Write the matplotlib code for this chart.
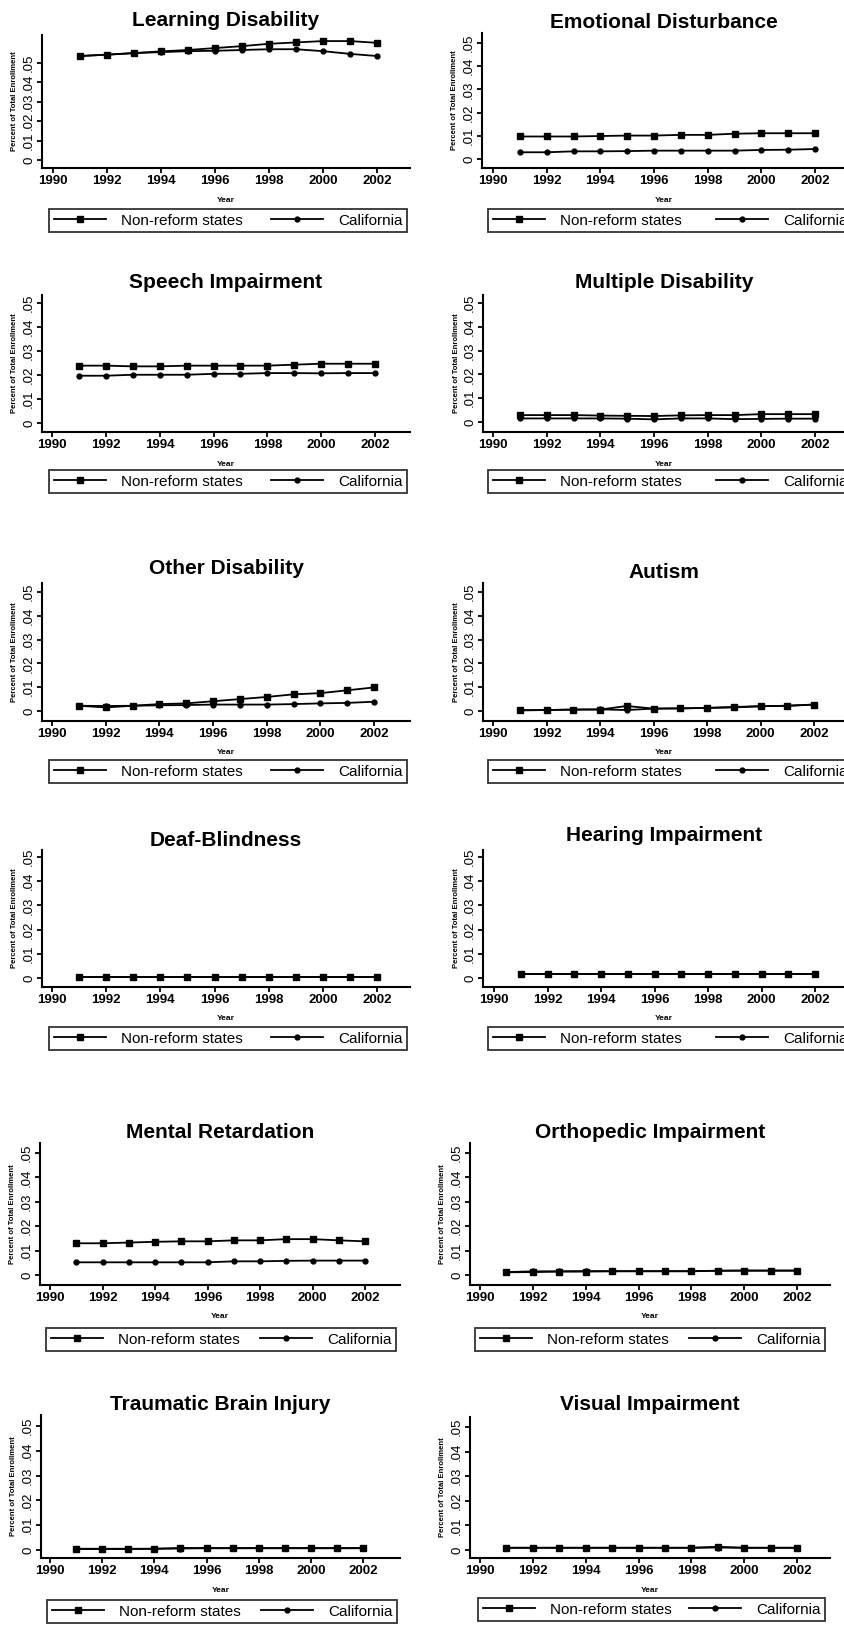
import matplotlib
matplotlib.use("Agg")
import matplotlib.pyplot as plt

plt.rcParams['font.family'] = ['Liberation Sans', 'DejaVu Sans']

years = [1991, 1992, 1993, 1994, 1995, 1996, 1997, 1998, 1999, 2000, 2001, 2002]
xticks = [1990, 1992, 1994, 1996, 1998, 2000, 2002]
yticks = [0, 0.01, 0.02, 0.03, 0.04, 0.05]
ytick_labels = ["0", ".01", ".02", ".03", ".04", ".05"]
series_labels = ["Non-reform states", "California"]

titles = ["Learning Disability", "Emotional Disturbance",
          "Speech Impairment", "Multiple Disability",
          "Other Disability", "Autism",
          "Deaf-Blindness", "Hearing Impairment",
          "Mental Retardation", "Orthopedic Impairment",
          "Traumatic Brain Injury", "Visual Impairment"]

ld_nonreform = [0.0536, 0.0543, 0.0551, 0.0560, 0.0567, 0.0577, 0.0587, 0.0599, 0.0606, 0.0613, 0.0613, 0.0604]
ld_california = [0.0536, 0.0543, 0.0551, 0.0556, 0.0561, 0.0563, 0.0567, 0.0571, 0.0571, 0.0561, 0.0547, 0.0536]
ed_nonreform = [0.0097, 0.0097, 0.0097, 0.0099, 0.0101, 0.0101, 0.0104, 0.0104, 0.0109, 0.0111, 0.0111, 0.0111]
ed_california = [0.0029, 0.0029, 0.0033, 0.0033, 0.0034, 0.0036, 0.0036, 0.0036, 0.0036, 0.0039, 0.0040, 0.0043]
sp_nonreform = [0.0239, 0.0239, 0.0236, 0.0236, 0.0239, 0.0239, 0.0239, 0.0239, 0.0243, 0.0247, 0.0247, 0.0247]
sp_california = [0.0197, 0.0197, 0.0201, 0.0201, 0.0201, 0.0205, 0.0205, 0.0208, 0.0208, 0.0207, 0.0208, 0.0208]
md_nonreform = [0.0029, 0.0029, 0.0029, 0.0027, 0.0026, 0.0025, 0.0028, 0.0029, 0.0029, 0.0033, 0.0033, 0.0033]
md_california = [0.0015, 0.0015, 0.0015, 0.0015, 0.0014, 0.0011, 0.0015, 0.0015, 0.0012, 0.0013, 0.0014, 0.0014]
od_nonreform = [0.0022, 0.0015, 0.0022, 0.0029, 0.0032, 0.0041, 0.0050, 0.0059, 0.0070, 0.0075, 0.0087, 0.0099]
od_california = [0.0022, 0.0021, 0.0022, 0.0024, 0.0025, 0.0027, 0.0027, 0.0027, 0.0029, 0.0032, 0.0034, 0.0039]
au_nonreform = [0.0003, 0.0004, 0.0006, 0.0006, 0.0021, 0.0010, 0.0011, 0.0013, 0.0015, 0.0020, 0.0022, 0.0027]
au_california = [0.0003, 0.0004, 0.0006, 0.0007, 0.0004, 0.0010, 0.0011, 0.0013, 0.0017, 0.0020, 0.0022, 0.0027]
db_nonreform = [0.0003, 0.0003, 0.0003, 0.0003, 0.0003, 0.0003, 0.0003, 0.0003, 0.0003, 0.0003, 0.0003, 0.0003]
db_california = [0.0003, 0.0003, 0.0003, 0.0003, 0.0003, 0.0003, 0.0003, 0.0003, 0.0003, 0.0003, 0.0003, 0.0003]
hi_nonreform = [0.0018, 0.0018, 0.0018, 0.0018, 0.0018, 0.0018, 0.0018, 0.0018, 0.0018, 0.0018, 0.0018, 0.0018]
hi_california = [0.0017, 0.0017, 0.0017, 0.0017, 0.0017, 0.0017, 0.0017, 0.0017, 0.0017, 0.0017, 0.0017, 0.0017]
mr_nonreform = [0.0130, 0.0130, 0.0133, 0.0136, 0.0138, 0.0138, 0.0142, 0.0142, 0.0147, 0.0147, 0.0142, 0.0138]
mr_california = [0.0052, 0.0052, 0.0052, 0.0052, 0.0052, 0.0052, 0.0056, 0.0056, 0.0058, 0.0059, 0.0059, 0.0059]
oi_nonreform = [0.0011, 0.0012, 0.0014, 0.0014, 0.0015, 0.0015, 0.0015, 0.0015, 0.0018, 0.0018, 0.0018, 0.0018]
oi_california = [0.0012, 0.0015, 0.0015, 0.0016, 0.0016, 0.0016, 0.0016, 0.0016, 0.0017, 0.0018, 0.0018, 0.0018]
tbi_nonreform = [0.0005, 0.0005, 0.0005, 0.0005, 0.0008, 0.0008, 0.0008, 0.0008, 0.0008, 0.0008, 0.0008, 0.0008]
tbi_california = [0.0004, 0.0004, 0.0004, 0.0005, 0.0006, 0.0007, 0.0007, 0.0007, 0.0007, 0.0007, 0.0007, 0.0007]
vi_nonreform = [0.0009, 0.0009, 0.0009, 0.0009, 0.0009, 0.0009, 0.0009, 0.0009, 0.0013, 0.0009, 0.0009, 0.0009]
vi_california = [0.0009, 0.0009, 0.0009, 0.0009, 0.0009, 0.0009, 0.0009, 0.0009, 0.0010, 0.0009, 0.0009, 0.0009]

nonreform = [ld_nonreform, ed_nonreform, sp_nonreform, md_nonreform, od_nonreform, au_nonreform,
             db_nonreform, hi_nonreform, mr_nonreform, oi_nonreform, tbi_nonreform, vi_nonreform]
california = [ld_california, ed_california, sp_california, md_california, od_california, au_california,
              db_california, hi_california, mr_california, oi_california, tbi_california, vi_california]

# layout in pixels: spine_x, x1990, x2002, right_x, top_y, bottom_y, y_zero, y_05, title_y, legend box
layout = [
    (42, 53, 377, 410, 35, 168, 160, 63, 20, (49, 209, 407, 233)),
    (482, 493, 815, 845, 33, 168, 159, 43, 23, (488, 209, 852, 236)),
    (42, 52, 375, 410, 295, 432, 423, 303, 282, (49, 470, 407, 502)),
    (483, 493, 815, 845, 295, 432, 422, 303, 282, (488, 470, 852, 502)),
    (42, 52, 374, 410, 583, 721, 711, 592, 568, (49, 760, 407, 789)),
    (483, 493, 814, 845, 583, 721, 711, 592, 572, (488, 760, 852, 789)),
    (42, 52, 377, 410, 850, 987, 978, 857, 840, (49, 1027, 407, 1055)),
    (483, 494, 815, 845, 850, 987, 978, 857, 835, (488, 1027, 852, 1055)),
    (40, 50, 365, 400, 1143, 1285, 1275, 1153, 1133, (46, 1328, 396, 1356)),
    (470, 480, 797, 830, 1143, 1285, 1275, 1153, 1132, (475, 1328, 825, 1356)),
    (41, 50, 363, 400, 1415, 1558, 1550, 1426, 1404, (47, 1600, 397, 1632)),
    (470, 480, 797, 830, 1417, 1558, 1550, 1427, 1405, (478, 1598, 825, 1632)),
]

W, H = 845, 1627
fig = plt.figure(figsize=(W / 100, H / 100), dpi=100)
fig.patch.set_facecolor('white')

for i, (sx, x90, x02, rx, ty, by, y0, y5, tty, lg) in enumerate(layout):
    ax = fig.add_axes([sx / W, 1 - by / H, (rx - sx) / W, (by - ty) / H])
    xs = 12.0 / (x02 - x90)
    ax.set_xlim(1990 - (x90 - sx) * xs, 2002 + (rx - x02) * xs)
    ys = 0.05 / (y0 - y5)
    ax.set_ylim(-(by - y0) * ys, (y0 - ty) * ys)

    l1, = ax.plot(years, nonreform[i], color='black', lw=1.3, marker='s', ms=5,
                  label=series_labels[0], clip_on=False)
    l2, = ax.plot(years, california[i], color='black', lw=1.3, marker='o', ms=3.5,
                  label=series_labels[1], clip_on=False)

    for s in ['top', 'right']:
        ax.spines[s].set_visible(False)
    for s in ['left', 'bottom']:
        ax.spines[s].set_linewidth(1.5)

    ax.set_xticks(xticks)
    ax.set_xticklabels([str(x) for x in xticks], fontsize=9.5, fontweight='bold')
    ax.set_yticks(yticks)
    ax.set_yticklabels(ytick_labels, fontsize=9.5)
    for lab in ax.get_yticklabels():
        lab.set_rotation(90)
        lab.set_va('center')
        lab.set_ha('right')
    ax.tick_params(axis='both', direction='out', length=3.5, width=1.3, pad=1.5)

    fig.text((sx + rx) / 2 / W, 1 - (by + 32) / H, "Year", ha='center', va='center',
             fontsize=6, fontweight='bold')
    fig.text((sx - 27) / W, 1 - (ty + by) / 2 / H, "Percent of Total Enrollment",
             ha='center', va='center', rotation=90, fontsize=5.5, fontweight='bold')

    fig.text((sx + rx) / 2 / W, 1 - tty / H, titles[i], ha='center', va='center',
             fontsize=15, fontweight='bold')

    lx0, ly0, lx1, ly1 = lg
    leg = ax.legend(handles=[l1, l2], loc='upper left', ncol=2, mode='expand',
                    bbox_to_anchor=(lx0 / W, 1 - ly1 / H, (lx1 - lx0) / W, (ly1 - ly0) / H),
                    bbox_transform=fig.transFigure, borderaxespad=0, fontsize=11,
                    handlelength=3.4, handletextpad=1.0, fancybox=False, frameon=True,
                    borderpad=0.3, columnspacing=1.0)
    leg.get_frame().set_edgecolor('black')
    leg.get_frame().set_linewidth(1.3)

fig.savefig("out.png", dpi=100)
